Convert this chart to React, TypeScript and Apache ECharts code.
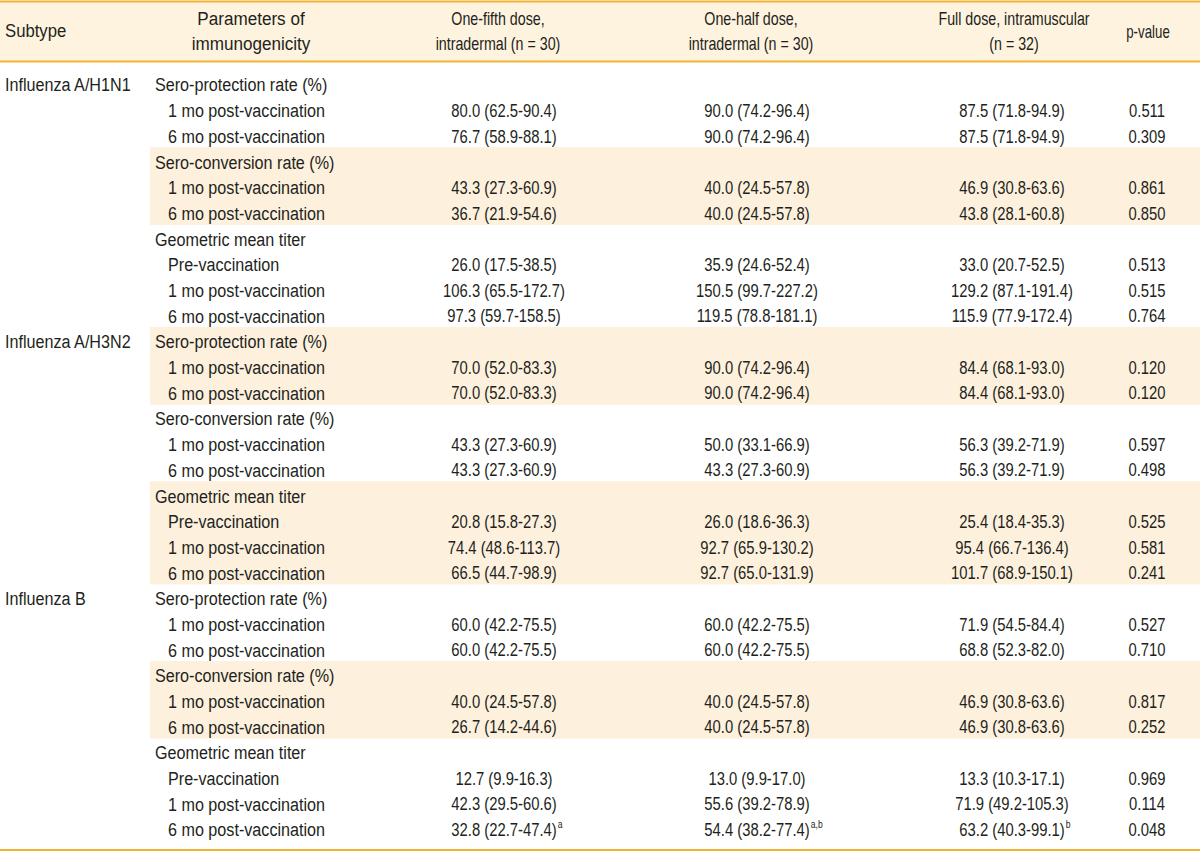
import React, { useEffect, useRef } from "react";
import * as echarts from "echarts";

// ---------- DATA ----------
const headerTitles = [
  ["Subtype"],
  ["Parameters of", "immunogenicity"],
  ["One-fifth dose,", "intradermal (n = 30)"],
  ["One-half dose,", "intradermal (n = 30)"],
  ["Full dose, intramuscular", "(n = 32)"],
  ["p-value"],
];

const subtypes = ["Influenza A/H1N1", "Influenza A/H3N2", "Influenza B"];

const parameterBlock = [
  "Sero-protection rate (%)",
  "1 mo post-vaccination",
  "6 mo post-vaccination",
  "Sero-conversion rate (%)",
  "1 mo post-vaccination",
  "6 mo post-vaccination",
  "Geometric mean titer",
  "Pre-vaccination",
  "1 mo post-vaccination",
  "6 mo post-vaccination",
];
const parameterHeadings = ["Sero-protection rate (%)", "Sero-conversion rate (%)", "Geometric mean titer"];

const oneFifthDose = [
  "", "80.0 (62.5-90.4)", "76.7 (58.9-88.1)",
  "", "43.3 (27.3-60.9)", "36.7 (21.9-54.6)",
  "", "26.0 (17.5-38.5)", "106.3 (65.5-172.7)", "97.3 (59.7-158.5)",
  "", "70.0 (52.0-83.3)", "70.0 (52.0-83.3)",
  "", "43.3 (27.3-60.9)", "43.3 (27.3-60.9)",
  "", "20.8 (15.8-27.3)", "74.4 (48.6-113.7)", "66.5 (44.7-98.9)",
  "", "60.0 (42.2-75.5)", "60.0 (42.2-75.5)",
  "", "40.0 (24.5-57.8)", "26.7 (14.2-44.6)",
  "", "12.7 (9.9-16.3)", "42.3 (29.5-60.6)", "32.8 (22.7-47.4)",
];
const oneHalfDose = [
  "", "90.0 (74.2-96.4)", "90.0 (74.2-96.4)",
  "", "40.0 (24.5-57.8)", "40.0 (24.5-57.8)",
  "", "35.9 (24.6-52.4)", "150.5 (99.7-227.2)", "119.5 (78.8-181.1)",
  "", "90.0 (74.2-96.4)", "90.0 (74.2-96.4)",
  "", "50.0 (33.1-66.9)", "43.3 (27.3-60.9)",
  "", "26.0 (18.6-36.3)", "92.7 (65.9-130.2)", "92.7 (65.0-131.9)",
  "", "60.0 (42.2-75.5)", "60.0 (42.2-75.5)",
  "", "40.0 (24.5-57.8)", "40.0 (24.5-57.8)",
  "", "13.0 (9.9-17.0)", "55.6 (39.2-78.9)", "54.4 (38.2-77.4)",
];
const fullDose = [
  "", "87.5 (71.8-94.9)", "87.5 (71.8-94.9)",
  "", "46.9 (30.8-63.6)", "43.8 (28.1-60.8)",
  "", "33.0 (20.7-52.5)", "129.2 (87.1-191.4)", "115.9 (77.9-172.4)",
  "", "84.4 (68.1-93.0)", "84.4 (68.1-93.0)",
  "", "56.3 (39.2-71.9)", "56.3 (39.2-71.9)",
  "", "25.4 (18.4-35.3)", "95.4 (66.7-136.4)", "101.7 (68.9-150.1)",
  "", "71.9 (54.5-84.4)", "68.8 (52.3-82.0)",
  "", "46.9 (30.8-63.6)", "46.9 (30.8-63.6)",
  "", "13.3 (10.3-17.1)", "71.9 (49.2-105.3)", "63.2 (40.3-99.1)",
];
const pValues = [
  "", "0.511", "0.309",
  "", "0.861", "0.850",
  "", "0.513", "0.515", "0.764",
  "", "0.120", "0.120",
  "", "0.597", "0.498",
  "", "0.525", "0.581", "0.241",
  "", "0.527", "0.710",
  "", "0.817", "0.252",
  "", "0.969", "0.114", "0.048",
];
// footnote marks: [subtype, row within block, value column, mark]
const footnotes: [string, number, number, string][] = [
  ["Influenza B", 9, 0, "a"],
  ["Influenza B", 9, 1, "a,b"],
  ["Influenza B", 9, 2, "b"],
];
// shaded parameter groups: [subtype, heading]
const shadedGroups: [string, string][] = [
  ["Influenza A/H1N1", "Sero-conversion rate (%)"],
  ["Influenza A/H3N2", "Sero-protection rate (%)"],
  ["Influenza A/H3N2", "Geometric mean titer"],
  ["Influenza B", "Sero-conversion rate (%)"],
];

// ---------- STYLE / LAYOUT ----------
const FONT_FAMILY = '"Liberation Sans", Arial, sans-serif';
const FONT_SIZE = 19;
const LABEL_SCALE = 0.85;
const NUM_SCALE = 0.78;
const HEADER_SCALES = [0.88, 0.9, 0.75, 0.75, 0.75, 0.7];
const HEADER_X = [5, 251, 498, 751, 1014, 1148];
const SUP_SIZE = 11;
const TEXT = "#231f20";
const RULE = "#f2b233";
const HEADER_BG = "#fef3df";
const BAND_BG = "#fdf1de";
const ROW0 = 85;
const PITCH = 25.69;
const X_SUBTYPE = 5;
const X_HEADING = 155;
const X_SUB = 168;
const X_COLS = [504, 757, 1012, 1147];

function measure(text: string, size: number) {
  const c = document.createElement("canvas").getContext("2d");
  if (!c) return text.length * size * 0.5;
  c.font = `${size}px ${FONT_FAMILY}`;
  return c.measureText(text).width;
}

export default function App() {
  const ref = useRef<HTMLDivElement>(null);

  useEffect(() => {
    if (!ref.current) return;
    const chart = echarts.init(ref.current, undefined, { renderer: "svg" });

    const rows = subtypes.flatMap((st, si) =>
      parameterBlock.map((label, bi) => {
        const idx = si * parameterBlock.length + bi;
        return {
          subtype: bi === 0 ? st : "",
          subtypeName: st,
          blockIndex: bi,
          label,
          heading: parameterHeadings.includes(label),
          values: [oneFifthDose[idx], oneHalfDose[idx], fullDose[idx], pValues[idx]],
        };
      })
    );
    let currentHeading = "";
    const rowHeading = rows.map((r) => {
      if (r.heading) currentHeading = r.label;
      return currentHeading;
    });
    const shaded = rows.map((r, i) =>
      shadedGroups.some(([st, h]) => st === r.subtypeName && h === rowHeading[i])
    );
    const sups = rows.map((r) => {
      const arr: string[] = ["", "", ""];
      footnotes.forEach(([st, bi, col, mark]) => {
        if (st === r.subtypeName && bi === r.blockIndex) arr[col] = mark;
      });
      return arr;
    });

    const gridTop = ROW0 - PITCH / 2;
    const gridBottom = 852 - (ROW0 + PITCH * (rows.length - 1) + PITCH / 2);

    const textStyle = (text: string, align: string, size = FONT_SIZE) => ({
      text,
      fill: TEXT,
      fontSize: size,
      fontFamily: FONT_FAMILY,
      align,
      verticalAlign: "middle",
      textAlign: align,
      textVerticalAlign: "middle",
    });

    const headerGraphics: any[] = [
      { type: "rect", shape: { x: 0, y: 1, width: 1200, height: 61 }, style: { fill: HEADER_BG }, z: 0 },
      { type: "line", shape: { x1: 0, y1: 1.5, x2: 1200, y2: 1.5 }, style: { stroke: RULE, lineWidth: 2 }, z: 1 },
      { type: "line", shape: { x1: 0, y1: 61.5, x2: 1200, y2: 61.5 }, style: { stroke: RULE, lineWidth: 2 }, z: 1 },
      { type: "line", shape: { x1: 0, y1: 850, x2: 1200, y2: 850 }, style: { stroke: RULE, lineWidth: 2 }, z: 1 },
    ];
    headerTitles.forEach((lines, ci) => {
      const align = ci === 0 ? "left" : "center";
      lines.forEach((line, li) => {
        const y = lines.length === 1 ? 31 : 19 + li * 25;
        headerGraphics.push({
          type: "text",
          x: HEADER_X[ci],
          y,
          scaleX: HEADER_SCALES[ci],
          style: textStyle(line, align),
          z: 2,
        });
      });
    });

    const option: any = {
      animation: false,
      grid: { left: 0, right: 0, top: gridTop, bottom: gridBottom },
      xAxis: { type: "value", min: 0, max: 1200, show: false },
      yAxis: { type: "value", min: -0.5, max: rows.length - 0.5, inverse: true, show: false },
      graphic: headerGraphics,
      series: [
        {
          type: "custom",
          clip: false,
          silent: true,
          data: rows.map((_, i) => [0, i]),
          renderItem: (params: any, api: any) => {
            const i = api.value(1);
            const r = rows[i];
            const [, yc] = api.coord([0, i]);
            const [, yTop] = api.coord([0, i - 0.5]);
            const [, yBot] = api.coord([0, i + 0.5]);
            const children: any[] = [];
            if (shaded[i]) {
              const [xl] = api.coord([150, i]);
              const [xr] = api.coord([1200, i]);
              children.push({
                type: "rect",
                shape: { x: xl, y: yTop - 2, width: xr - xl, height: yBot - yTop + 0.6 },
                style: { fill: BAND_BG },
              });
            }
            if (r.subtype) {
              const [x] = api.coord([X_SUBTYPE, i]);
              children.push({ type: "text", x, y: yc, scaleX: LABEL_SCALE, style: textStyle(r.subtype, "left") });
            }
            {
              const [x] = api.coord([r.heading ? X_HEADING : X_SUB, i]);
              children.push({ type: "text", x, y: yc, scaleX: LABEL_SCALE, style: textStyle(r.label, "left") });
            }
            r.values.forEach((v, ci) => {
              if (!v) return;
              const [x] = api.coord([X_COLS[ci], i]);
              children.push({ type: "text", x, y: yc, scaleX: NUM_SCALE, style: textStyle(v, "center") });
              const sup = ci < 3 ? sups[i][ci] : "";
              if (sup) {
                const w = measure(v, FONT_SIZE) * NUM_SCALE;
                children.push({
                  type: "text",
                  x: x + w / 2 + 1,
                  y: yc - 6,
                  scaleX: NUM_SCALE,
                  style: textStyle(sup, "left", SUP_SIZE),
                });
              }
            });
            return { type: "group", children };
          },
        },
      ],
    };
    chart.setOption(option);
    return () => chart.dispose();
  }, []);

  return (
    <div
      ref={ref}
      style={{ position: "absolute", left: 0, top: 0, width: 1200, height: 852, background: "#fff" }}
    />
  );
}
